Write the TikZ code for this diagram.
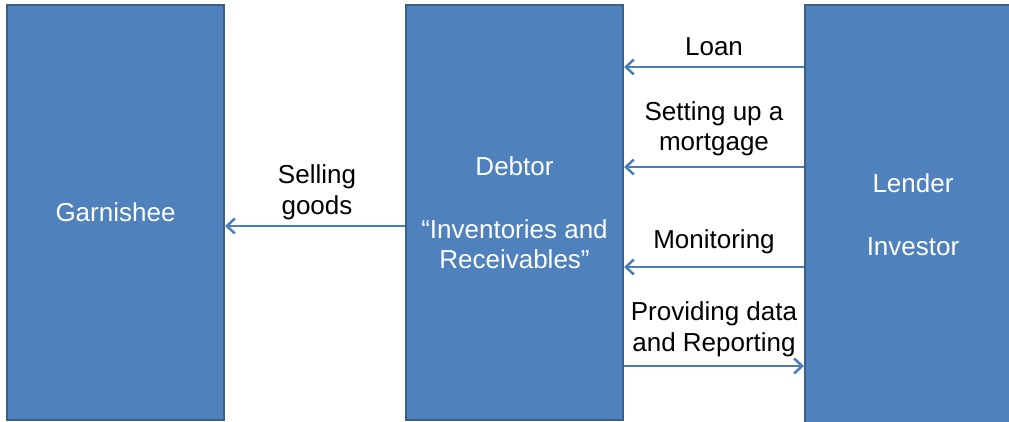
\documentclass[tikz,border=0pt]{standalone}
\usepackage{fontspec}
\setmainfont{Liberation Sans}
\usetikzlibrary{positioning,arrows.meta}
\definecolor{boxfill}{HTML}{4F81BD}
\definecolor{boxline}{HTML}{3A5F8B}
\definecolor{flowc}{HTML}{4A7EBB}
\newcommand{\bigtext}{\fontsize{26}{30.5}\selectfont}
\tikzset{
  party/.style={draw=boxline, line width=2pt, fill=boxfill, text=white,
    align=center, inner sep=0pt, font=\bigtext},
  flow/.style={flowc, line width=2.5pt,
    -{Straight Barb[length=8pt,width=15pt]}},
  flowlbl/.style={align=center, font=\bigtext}
}

\begin{document}
\begin{tikzpicture}[x=1pt,y=-1pt]
  \clip (0,0) rectangle (1009,421);
  % the three parties
  \node[party, minimum width=217pt, minimum height=415pt] (garn) at (115.5,212.5) {Garnishee};
  \node[party, minimum width=217pt, minimum height=415pt] (debtor) at (514.5,212.5)
    {Debtor\\[32.5pt]“Inventories and\\Receivables”};
  \node[party, minimum width=216pt, minimum height=420pt] (lender) at (913,215)
    {Lender\\[32.5pt]Investor};
  % arrow heights
  \coordinate (yloan) at (0,67);
  \coordinate (ymort) at (0,167);
  \coordinate (ysell) at (0,226);
  \coordinate (ymon) at (0,267);
  \coordinate (yrep) at (0,366);
  % flows between lender and debtor
  \draw[flow] (lender.west |- yloan) -- (debtor.east |- yloan);
  \draw[flow] (lender.west |- ymort) -- (debtor.east |- ymort);
  \draw[flow] (lender.west |- ymon) -- (debtor.east |- ymon);
  \draw[flow] (debtor.east |- yrep) -- (lender.west |- yrep);
  \draw[flow] (debtor.west |- ysell) -- (garn.east |- ysell);
  % labels
  \node[flowlbl] (loan) at (714,47) {Loan};
  \node[flowlbl] (mort) at (714,129) {Setting up a\\mortgage};
  \node[flowlbl] (mon) at (714,241.5) {Monitoring};
  \node[flowlbl] (rep) at (714,329.5) {Providing data\\and Reporting};
  \node[flowlbl] (sell) at (317,192.5) {Selling\\goods};
\end{tikzpicture}
\end{document}
